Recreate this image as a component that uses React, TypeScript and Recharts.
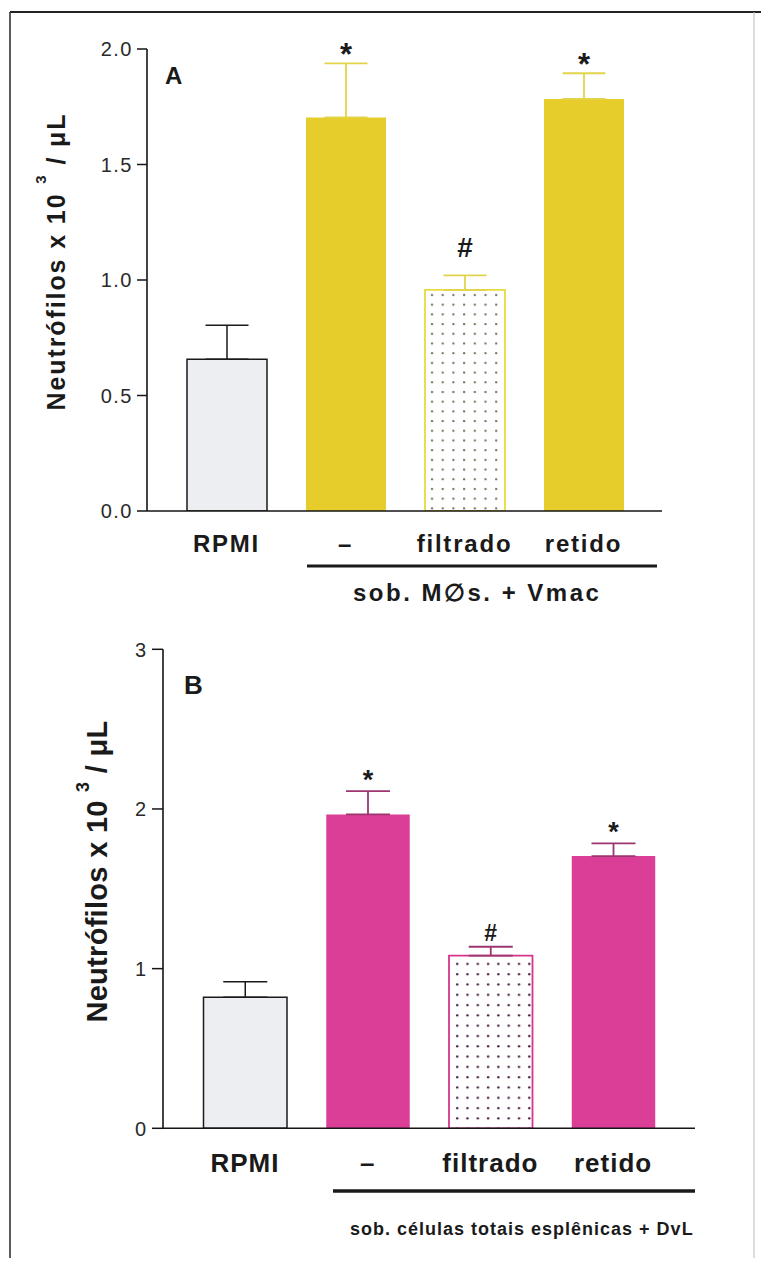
import React from 'react';
import { BarChart, Bar, XAxis, YAxis, Cell, ErrorBar, LabelList } from 'recharts';

const categories = ['RPMI', '–', 'filtrado', 'retido'];

const valuesA = [0.657, 1.704, 0.957, 1.784];
const errorsA = [0.147, 0.234, 0.063, 0.111];
const marksA = ['', '*', '#', '*'];
const ticksA = [0, 0.5, 1, 1.5, 2];

const valuesB = [0.82, 1.966, 1.081, 1.705];
const errorsB = [0.098, 0.146, 0.056, 0.08];
const marksB = ['', '*', '#', '*'];
const ticksB = [0, 1, 2, 3];

const FONT = '"Liberation Sans", Arial, Helvetica, sans-serif';

function buildRows(values: number[], errors: number[], marks: string[]) {
  return categories.map((cat, i) => ({
    cat,
    value: values[i],
    errCtrl: i === 0 ? [0, errors[i]] : null,
    errTrt: i === 0 ? null : [0, errors[i]],
    mark: marks[i],
  }));
}

const rowsA = buildRows(valuesA, errorsA, marksA);
const rowsB = buildRows(valuesB, errorsB, marksB);

type PanelCfg = {
  rows: any[];
  values: number[];
  errors: number[];
  ticks: number[];
  fmt: (v: number) => string;
  width: number;
  height: number;
  margin: any;
  barSize: number;
  padding: { left: number; right: number };
  main: string;
  dots: string;
  outline: string;
  errColor: string;
  cap: number;
  tickSize: number;
  tickMargin: number;
  tickFont: number;
  tickLS: number;
  xFont: number;
  xLS: number;
  xDy: number;
  starFont: number;
  hashFont: number;
  starOff: number;
  hashOff: number;
};

function Panel(c: PanelCfg) {
  const XTick = (p: any) => (
    <text
      x={p.x}
      y={p.y + c.xDy}
      textAnchor="middle"
      fontFamily={FONT}
      fontWeight="bold"
      fontSize={c.xFont}
      letterSpacing={c.xLS}
      fill="#1a1a1a"
    >
      {p.payload.value}
    </text>
  );
  const YTick = (p: any) => (
    <text
      x={p.x}
      y={p.y}
      dy="0.36em"
      textAnchor="end"
      fontFamily={FONT}
      fontSize={c.tickFont}
      letterSpacing={c.tickLS}
      fill="#2a2a2a"
    >
      {c.fmt(p.payload.value)}
    </text>
  );
  const Mark = (p: any) => {
    const vb = p.viewBox || p;
    const i = p.index;
    const m = c.rows[i] ? c.rows[i].mark : '';
    if (!m) return null;
    const bx = vb.x;
    const by = vb.y;
    const bw = vb.width;
    const bh = vb.height;
    const errPx = (bh * c.errors[i]) / c.values[i];
    const top = by - errPx;
    const isHash = m === '#';
    return (
      <text
        x={bx + bw / 2}
        y={top - (isHash ? c.hashOff : c.starOff)}
        textAnchor="middle"
        fontFamily={FONT}
        fontWeight="bold"
        fontSize={isHash ? c.hashFont : c.starFont}
        fill="#1a1a1a"
      >
        {m}
      </text>
    );
  };
  const fills = ['#eceef2', c.main, `url(#${c.dots})`, c.main];
  const strokes = ['#1a1a1a', 'none', c.outline, 'none'];
  const sws = [1.5, 0, 1.8, 0];
  return (
    <BarChart width={c.width} height={c.height} data={c.rows} margin={c.margin} barSize={c.barSize}>
      <XAxis
        dataKey="cat"
        height={30}
        padding={c.padding}
        axisLine={{ stroke: '#151515', strokeWidth: 1.6 }}
        tickLine={false}
        tickSize={0}
        tickMargin={0}
        tick={XTick}
        interval={0}
      />
      <YAxis
        width={60}
        domain={[c.ticks[0], c.ticks[c.ticks.length - 1]]}
        ticks={c.ticks}
        axisLine={{ stroke: '#151515', strokeWidth: 1.6 }}
        tickLine={{ stroke: '#151515', strokeWidth: 1.5 }}
        tickSize={c.tickSize}
        tickMargin={c.tickMargin}
        tick={YTick}
        allowDataOverflow
      />
      <Bar dataKey="value" isAnimationActive={false}>
        {c.rows.map((_, i) => (
          <Cell key={i} fill={fills[i]} stroke={strokes[i]} strokeWidth={sws[i]} />
        ))}
        <ErrorBar dataKey="errCtrl" direction="y" width={c.cap} stroke="#1a1a1a" strokeWidth={1.5} isAnimationActive={false} />
        <ErrorBar dataKey="errTrt" direction="y" width={c.cap} stroke={c.errColor} strokeWidth={1.8} isAnimationActive={false} />
        <LabelList dataKey="mark" content={Mark} />
      </Bar>
    </BarChart>
  );
}

const yellow = '#e6cd2b';
const magenta = '#da3e97';

export default function App() {
  return (
    <div style={{ position: 'absolute', left: 0, top: 0, width: 761, height: 1262, background: '#fff', overflow: 'hidden' }}>
      <svg width={0} height={0} style={{ position: 'absolute' }}>
        <defs>
          <pattern id="dotsA" patternUnits="userSpaceOnUse" width={10.7} height={9.7}>
            <rect width={10.7} height={9.7} fill="#ffffff" />
            <circle cx={4} cy={4} r={1.2} fill="#6f6e58" />
          </pattern>
          <pattern id="dotsB" patternUnits="userSpaceOnUse" width={10.3} height={10.3}>
            <rect width={10.3} height={10.3} fill="#ffffff" />
            <circle cx={4} cy={4} r={1.2} fill="#4a2040" />
          </pattern>
        </defs>
      </svg>

      <div style={{ position: 'absolute', left: 0, top: 0 }}>
        <Panel
          rows={rowsA}
          values={valuesA}
          errors={errorsA}
          ticks={ticksA}
          fmt={(v) => v.toFixed(1)}
          width={761}
          height={620}
          margin={{ top: 49, right: 99, bottom: 79, left: 87 }}
          barSize={80}
          padding={{ left: 20, right: 19 }}
          main={yellow}
          dots="dotsA"
          outline="#e6dc3c"
          errColor="#e2d44a"
          cap={21.5}
          tickSize={10}
          tickMargin={4}
          tickFont={20}
          tickLS={1.5}
          xFont={24}
          xLS={1.8}
          xDy={41}
          starFont={31}
          hashFont={28}
          starOff={-2}
          hashOff={18}
        />
      </div>

      <div style={{ position: 'absolute', left: 0, top: 620 }}>
        <Panel
          rows={rowsB}
          values={valuesB}
          errors={errorsB}
          ticks={ticksB}
          fmt={(v) => String(v)}
          width={761}
          height={642}
          margin={{ top: 29.3, right: 66, bottom: 103.7, left: 103 }}
          barSize={83.5}
          padding={{ left: 20.5, right: 20.5 }}
          main={magenta}
          dots="dotsB"
          outline="#d8348c"
          errColor="#9c3570"
          cap={22}
          tickSize={11}
          tickMargin={5}
          tickFont={20}
          tickLS={1}
          xFont={26}
          xLS={1}
          xDy={43.7}
          starFont={27}
          hashFont={23}
          starOff={2.5}
          hashOff={6}
        />
      </div>

      <svg
        width={761}
        height={1262}
        style={{ position: 'absolute', left: 0, top: 0, pointerEvents: 'none' }}
        fontFamily={FONT}
      >
        <line x1={10} x2={761} y1={12} y2={12} stroke="#222" strokeWidth={2} />
        <line x1={10} x2={10} y1={12} y2={1258} stroke="#333" strokeWidth={1.6} />
        <line x1={754} x2={754} y1={12} y2={1258} stroke="#bbb" strokeWidth={1} />

        <text x={165} y={84} fontSize={24} fontWeight="bold" fill="#1a1a1a">A</text>
        <text x={184} y={694} fontSize={26} fontWeight="bold" fill="#1a1a1a">B</text>

        <text transform="translate(65,261.5) rotate(-90)" textAnchor="middle" fontSize={25} fontWeight="bold" letterSpacing={1.9} fill="#1a1a1a">
          Neutrófilos x 10 <tspan dy={-19} fontSize={15}>3</tspan>
          <tspan dy={19}> / μL</tspan>
        </text>
        <text transform="translate(106.7,871.5) rotate(-90)" textAnchor="middle" fontSize={29} fontWeight="bold" letterSpacing={0.3} fill="#1a1a1a">
          Neutrófilos x 10 <tspan dy={-18} fontSize={18}>3</tspan>
          <tspan dy={18}> / μL</tspan>
        </text>

        <line x1={307} x2={657} y1={566} y2={566} stroke="#1a1a1a" strokeWidth={3} />
        <text x={353} y={601} fontSize={24} fontWeight="bold" letterSpacing={2.5} fill="#1a1a1a">
          sob. M∅s. + Vmac
        </text>

        <line x1={333} x2={695} y1={1191} y2={1191} stroke="#1a1a1a" strokeWidth={3.5} />
        <text x={350} y={1235} fontSize={18} fontWeight="bold" letterSpacing={1} fill="#1a1a1a">
          sob. células totais esplênicas + DvL
        </text>
      </svg>
    </div>
  );
}
